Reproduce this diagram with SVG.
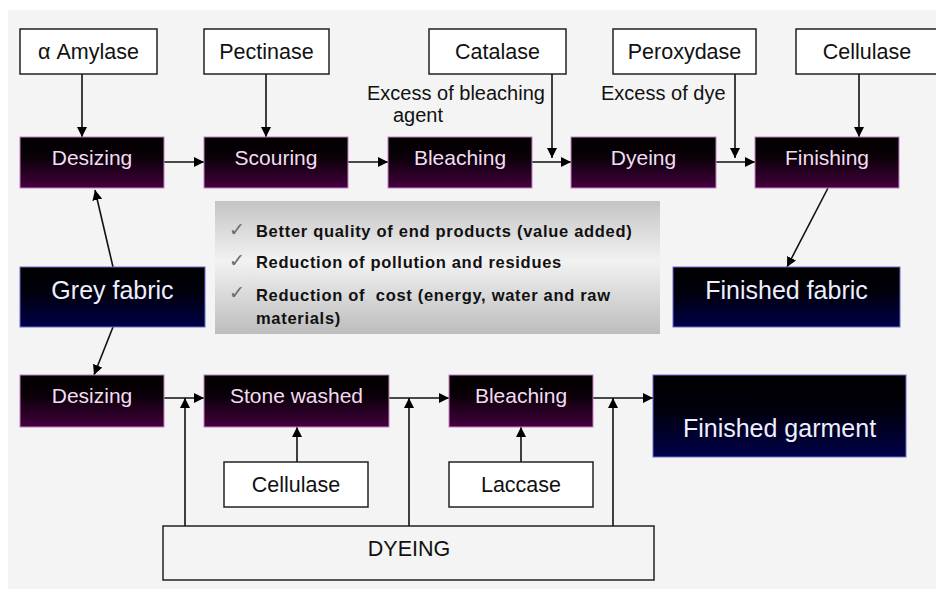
<svg xmlns="http://www.w3.org/2000/svg" width="936" height="589" viewBox="0 0 936 589">
  <defs>
    <linearGradient id="gPurple" x1="0" y1="0" x2="0" y2="1">
      <stop offset="0" stop-color="#000000"/>
      <stop offset="0.4" stop-color="#0a0008"/>
      <stop offset="1" stop-color="#44003e"/>
    </linearGradient>
    <linearGradient id="gNavy" x1="0" y1="0" x2="0" y2="1">
      <stop offset="0" stop-color="#000000"/>
      <stop offset="0.4" stop-color="#00000a"/>
      <stop offset="1" stop-color="#000048"/>
    </linearGradient>
    <linearGradient id="gPanel" x1="0" y1="0" x2="0" y2="1">
      <stop offset="0" stop-color="#c4c4c4"/>
      <stop offset="0.45" stop-color="#f2f2f2"/>
      <stop offset="1" stop-color="#bdbdbd"/>
    </linearGradient>
    <marker id="arr" viewBox="0 0 10 10" refX="10" refY="5" markerWidth="10" markerHeight="10" markerUnits="userSpaceOnUse" orient="auto">
      <path d="M0,0 L10,5 L0,10 z" fill="#000"/>
    </marker>
    <style>
      .enz { fill: #ffffff; stroke: #222; stroke-width: 1.5; }
      .step { fill: url(#gPurple); stroke: #c77fc4; stroke-width: 1; }
      .prod { fill: url(#gNavy); stroke: #6a6ad0; stroke-width: 1; }
      .t-enz { font-family: "Liberation Sans", Arial, sans-serif; font-size: 21.5px; fill: #111; text-anchor: middle; }
      .t-step { font-family: "Liberation Sans", Arial, sans-serif; font-size: 21px; fill: #f2dcf2; text-anchor: middle; }
      .t-prod { font-family: "Liberation Sans", Arial, sans-serif; font-size: 25px; fill: #eeeeff; text-anchor: middle; }
      .t-note { font-family: "Liberation Sans", Arial, sans-serif; font-size: 20px; fill: #111; }
      .t-bul { font-family: "Liberation Sans", Arial, sans-serif; font-size: 16.5px; font-weight: bold; fill: #111; letter-spacing: 0.7px; white-space: pre; }
      .tick { font-family: "DejaVu Sans", sans-serif; font-size: 19px; fill: #6a6a6a; }
      .c { fill: none; stroke: #111; stroke-width: 1.6; }
    </style>
  </defs>

  <rect x="0" y="0" width="936" height="589" fill="#ffffff"/>
  <rect x="8" y="10" width="928" height="579" fill="#f4f4f4"/>

  <!-- connectors -->
  <g id="connectors">
    <line class="c" x1="82" y1="74" x2="82" y2="137" marker-end="url(#arr)"/>
    <line class="c" x1="266" y1="74" x2="266" y2="137" marker-end="url(#arr)"/>
    <line class="c" x1="552" y1="74" x2="552" y2="158" marker-end="url(#arr)"/>
    <line class="c" x1="735" y1="74" x2="735" y2="158" marker-end="url(#arr)"/>
    <line class="c" x1="859" y1="74" x2="859" y2="137" marker-end="url(#arr)"/>
    <line class="c" x1="164" y1="162" x2="204" y2="162" marker-end="url(#arr)"/>
    <line class="c" x1="348" y1="162" x2="388" y2="162" marker-end="url(#arr)"/>
    <line class="c" x1="532" y1="162" x2="571" y2="162" marker-end="url(#arr)"/>
    <line class="c" x1="716" y1="162" x2="755" y2="162" marker-end="url(#arr)"/>
    <line class="c" x1="113" y1="267" x2="95" y2="190" marker-end="url(#arr)"/>
    <line class="c" x1="113" y1="327" x2="94" y2="375" marker-end="url(#arr)"/>
    <line class="c" x1="828" y1="188" x2="787" y2="267" marker-end="url(#arr)"/>
    <line class="c" x1="164" y1="398" x2="204" y2="398" marker-end="url(#arr)"/>
    <line class="c" x1="389" y1="398" x2="449" y2="398" marker-end="url(#arr)"/>
    <line class="c" x1="593" y1="398" x2="653" y2="398" marker-end="url(#arr)"/>
    <line class="c" x1="297" y1="462" x2="297" y2="427" marker-end="url(#arr)"/>
    <line class="c" x1="521" y1="462" x2="521" y2="427" marker-end="url(#arr)"/>
    <line class="c" x1="185" y1="526" x2="185" y2="398" marker-end="url(#arr)"/>
    <line class="c" x1="409" y1="526" x2="409" y2="398" marker-end="url(#arr)"/>
    <line class="c" x1="613" y1="526" x2="613" y2="398" marker-end="url(#arr)"/>
  </g>

  <!-- enzyme boxes -->
  <g id="amylase"><rect class="enz" x="20" y="29" width="137" height="45"/><text class="t-enz" x="88.5" y="59">α Amylase</text></g>
  <g id="pectinase"><rect class="enz" x="204" y="29" width="125" height="45"/><text class="t-enz" x="266.5" y="59">Pectinase</text></g>
  <g id="catalase"><rect class="enz" x="429" y="29" width="137" height="45"/><text class="t-enz" x="497.5" y="59">Catalase</text></g>
  <g id="peroxydase"><rect class="enz" x="613" y="29" width="143" height="45"/><text class="t-enz" x="684.5" y="59">Peroxydase</text></g>
  <g id="cellulase-top"><rect class="enz" x="796" y="29" width="150" height="45"/><text class="t-enz" x="867" y="59">Cellulase</text></g>

  <!-- side notes -->
  <g id="note-bleach"><text class="t-note" x="367" y="100">Excess of bleaching</text><text class="t-note" x="393" y="122">agent</text></g>
  <g id="note-dye"><text class="t-note" x="601" y="100">Excess of dye</text></g>

  <!-- top process row -->
  <g id="desizing-top"><rect class="step" x="20" y="137" width="144" height="51"/><text class="t-step" x="92" y="165">Desizing</text></g>
  <g id="scouring"><rect class="step" x="204" y="137" width="144" height="51"/><text class="t-step" x="276" y="165">Scouring</text></g>
  <g id="bleaching-top"><rect class="step" x="388" y="137" width="144" height="51"/><text class="t-step" x="460" y="165">Bleaching</text></g>
  <g id="dyeing-top"><rect class="step" x="571" y="137" width="145" height="51"/><text class="t-step" x="643.5" y="165">Dyeing</text></g>
  <g id="finishing"><rect class="step" x="755" y="137" width="144" height="51"/><text class="t-step" x="827" y="165">Finishing</text></g>

  <!-- benefits panel -->
  <g id="benefits">
    <rect x="215" y="201" width="445" height="133" fill="url(#gPanel)"/>
    <text class="tick" x="229" y="236">✓</text><text class="t-bul" x="256" y="237">Better quality of end products (value added)</text>
    <text class="tick" x="229" y="267">✓</text><text class="t-bul" x="256" y="268">Reduction of pollution and residues</text>
    <text class="tick" x="229" y="299">✓</text><text class="t-bul" x="256" y="301">Reduction of  cost (energy, water and raw</text>
    <text class="t-bul" x="256" y="324">materials)</text>
  </g>

  <!-- fabric nodes -->
  <g id="grey-fabric"><rect class="prod" x="20" y="267" width="185" height="60"/><text class="t-prod" x="112.5" y="299">Grey fabric</text></g>
  <g id="finished-fabric"><rect class="prod" x="673" y="267" width="227" height="60"/><text class="t-prod" x="786.5" y="299">Finished fabric</text></g>

  <!-- lower process row -->
  <g id="desizing-bottom"><rect class="step" x="20" y="375" width="144" height="52"/><text class="t-step" x="92" y="403">Desizing</text></g>
  <g id="stone-washed"><rect class="step" x="204" y="375" width="185" height="52"/><text class="t-step" x="296.5" y="403">Stone washed</text></g>
  <g id="bleaching-bottom"><rect class="step" x="449" y="375" width="144" height="52"/><text class="t-step" x="521" y="403">Bleaching</text></g>
  <g id="finished-garment"><rect class="prod" x="653" y="375" width="253" height="82"/><text class="t-prod" x="779.5" y="437">Finished garment</text></g>

  <g id="cellulase-bottom"><rect class="enz" x="224" y="462" width="144" height="45"/><text class="t-enz" x="296" y="492">Cellulase</text></g>
  <g id="laccase"><rect class="enz" x="449" y="462" width="144" height="45"/><text class="t-enz" x="521" y="492">Laccase</text></g>

  <g id="dyeing-bottom"><rect class="enz" x="163" y="526" width="491" height="54" style="fill:#f4f4f4"/><text class="t-enz" x="409" y="556">DYEING</text></g>
</svg>
